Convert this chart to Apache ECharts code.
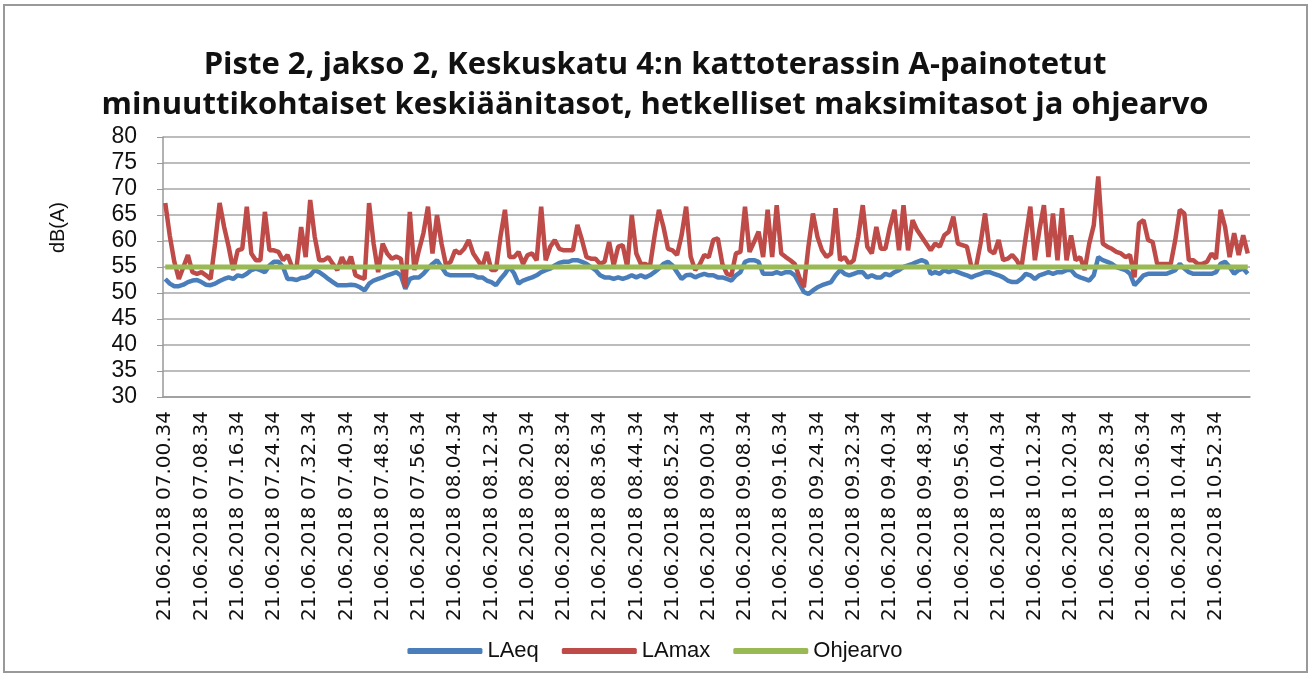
<!DOCTYPE html>
<html>
<head>
<meta charset="utf-8">
<script src="https://cdn.jsdelivr.net/npm/echarts@6/dist/echarts.min.js"></script>
<style>
  html, body { margin: 0; padding: 0; background: #fff; }
  #wrap { position: relative; width: 1310px; height: 675px; }
  #chart { width: 1310px; height: 675px; }
  #frame { position: absolute; left: 3px; top: 4px; right: 2px; bottom: 2px; border: 2px solid #999; pointer-events: none; }
</style>
</head>
<body>
<div id="wrap">
  <div id="chart"></div>
  <div id="frame"></div>
</div>
<script>
// one reading per minute, 07.00.34 ... 10.59.34
const startHour = 7
const minutes = 240
const dateText = '21.06.2018'

const laeq = [
  52.7, 51.8, 51.3, 51.3, 51.6, 52.1, 52.4, 52.5, 52.1, 51.6,
  51.5, 51.8, 52.3, 52.7, 53.0, 52.7, 53.4, 53.2, 53.7, 54.4,
  54.7, 54.4, 54.0, 55.3, 56.0, 56.0, 55.0, 52.7, 52.7, 52.5,
  52.9, 53.0, 53.4, 54.4, 54.0, 53.4, 52.7, 52.1, 51.5,
  51.5, 51.5, 51.6, 51.5, 51.1, 50.5, 51.8, 52.4, 52.7, 53.0,
  53.4, 53.7, 54.0, 53.4, 50.8, 52.7, 53.0, 53.0, 53.7, 54.7,
  55.6, 56.3, 55.0, 53.7, 53.4, 53.4, 53.4, 53.4, 53.4, 53.4,
  53.0, 53.0, 52.4, 52.1, 51.5, 52.7, 53.7, 55.0,
  53.8, 51.8, 52.4, 52.7, 53.0, 53.4, 54.0, 54.4, 54.7, 55.3,
  55.8, 56.0, 56.0, 56.3, 56.3, 56.0, 55.6, 55.0, 54.4, 53.4,
  53.0, 53.0, 52.7, 53.0, 52.7, 53.0, 53.4, 53.0, 53.4, 53.0,
  53.4, 54.0, 54.7, 55.6, 56.0, 55.3, 54.0, 52.7, 53.4,
  53.5, 53.0, 53.4, 53.7, 53.4, 53.4, 53.0, 53.0, 52.7, 52.4,
  53.4, 54.0, 56.0, 56.3, 56.3, 56.0, 53.7, 53.7, 53.7, 54.0,
  53.7, 54.0, 54.0, 53.4, 51.8, 50.2, 49.8, 50.5, 51.1, 51.5,
  51.8, 52.1, 53.4, 54.4, 53.7, 53.4, 53.7, 54.0, 54.0, 53.0,
  53.4, 53.0, 53.0, 53.7, 53.4, 54.0, 54.4, 55.0, 55.3, 55.6,
  56.0, 56.3, 56.0, 53.7, 54.0, 53.7, 54.4, 54.0, 54.4, 54.0,
  53.7, 53.4, 53.0, 53.4, 53.7, 54.0, 54.0, 53.7, 53.4, 53.0,
  52.4, 52.1, 52.1, 52.7, 53.7, 53.4, 52.7, 53.4, 53.7, 54.0,
  53.7, 54.0, 54.0, 54.4, 54.4, 53.4, 53.0, 52.7, 52.4, 53.4,
  56.9, 56.3, 56.0, 55.6, 55.0, 54.7, 54.4, 53.7, 51.5, 52.4,
  53.4, 53.7, 53.7, 53.7, 53.7, 53.7, 54.0, 54.4, 55.6, 54.7,
  54.0, 53.7, 53.7, 53.7, 53.7, 53.7, 54.0, 55.6, 56.0, 55.0,
  53.7, 54.4, 54.7, 53.7
]

const lamax = [
  67.3, 61.0, 56.0, 52.7, 55.0, 57.3, 54.0, 53.7, 54.0, 53.4,
  52.7, 59.5, 67.3, 62.7, 58.9, 54.4, 58.2, 58.5, 66.6, 57.6,
  56.3, 56.3, 65.6, 58.2, 58.2, 57.9, 56.3, 57.3, 55.0, 55.0,
  62.7, 56.9, 67.9, 60.8, 56.3, 56.3, 56.9,
  55.6, 54.4, 56.9, 55.0, 57.0, 53.4, 53.0, 52.7, 67.3, 59.5,
  54.0, 59.5, 57.6, 56.6, 57.0, 56.6, 51.0, 65.6, 54.4, 58.2,
  61.5, 66.6, 57.6, 65.0, 59.5, 55.3, 56.0, 58.2, 57.6, 58.5,
  60.2, 57.6, 56.3, 55.0, 57.9, 54.4, 54.4, 60.8, 66.0, 56.9,
  56.9, 57.9, 55.6, 57.3, 57.6, 56.3, 66.6, 56.3, 58.9, 60.2,
  58.5, 58.2, 58.2, 58.2, 63.1, 60.2, 56.9, 56.6, 56.6, 55.6,
  56.0, 59.8, 55.3, 58.9, 59.2, 55.0, 65.0, 57.6, 55.6, 55.6,
  55.0, 60.8, 66.0, 62.7, 58.5, 58.2, 57.3, 61.1, 66.6,
  57.0, 54.4, 55.5, 57.3, 56.9, 60.2, 60.5, 55.6, 53.7, 53.4,
  57.6, 57.9, 66.6, 57.9, 59.8, 61.8, 56.9, 66.0, 56.9, 66.9,
  57.6, 56.9, 56.3, 55.6, 53.0, 51.1, 58.9, 65.3, 60.8, 58.2,
  56.9, 57.6, 66.3, 56.3, 56.9, 55.6, 56.3, 60.8, 66.9, 58.9,
  57.6, 62.7, 58.5, 58.5, 62.7, 66.0, 58.2, 66.9, 58.2, 64.0,
  62.1, 60.8, 59.5, 58.2, 59.5, 58.9, 61.1, 61.8, 64.7, 59.5,
  59.2, 58.9, 55.0, 55.0, 59.5, 65.3, 58.2, 57.6, 60.2, 56.3,
  56.6, 57.3, 56.3, 54.7, 60.8, 66.6, 56.3, 62.1, 66.9, 56.9,
  65.3, 56.3, 66.3, 56.3, 61.1, 56.3, 56.9, 54.4, 59.5, 63.0,
  72.4, 59.5, 58.9, 58.5, 57.9, 57.6, 56.9, 57.3, 53.0, 63.4,
  64.0, 60.2, 59.8, 55.6, 55.6, 55.6, 55.6, 60.2, 66.0, 65.3,
  56.3, 56.3, 55.6, 55.6, 56.0, 57.6, 56.6, 66.0, 62.7, 56.9,
  61.5, 57.3, 61.1, 57.6
]

// guideline value (constant)
const ohjearvo = 55

const yTicks = { min: 30, max: 80, interval: 5 }

const pad = n => String(n).padStart(2, '0')
const categories = []
for (let m = 0; m < minutes; m++) {
  const h = startHour + Math.floor(m / 60)
  categories.push(dateText + ' ' + pad(h) + '.' + pad(m % 60) + '.34')
}

const colors = ['#4a7ebb', '#be4b48', '#98b954']
const fontMain = '"Liberation Sans", Arial, sans-serif'

const chart = echarts.init(document.getElementById('chart'))

chart.setOption({
  animation: false,
  title: {
    text: 'Piste 2, jakso 2, Keskuskatu 4:n kattoterassin A-painotetut\nminuuttikohtaiset keskiäänitasot, hetkelliset maksimitasot ja ohjearvo',
    left: 'center',
    top: 40,
    textStyle: {
      fontFamily: '"Open Sans", sans-serif',
      fontSize: 31,
      fontWeight: 'bold',
      color: '#111',
      lineHeight: 40
    }
  },
  legend: {
    bottom: 8,
    left: 'center',
    itemWidth: 75,
    itemHeight: 6,
    itemGap: 23,
    icon: 'roundRect',
    textStyle: { fontFamily: fontMain, fontSize: 22, color: '#111' },
    data: ['LAeq', 'LAmax', 'Ohjearvo']
  },
  graphic: [{
    type: 'text',
    left: 48,
    top: 202,
    rotation: Math.PI / 2,
    style: { text: 'dB(A)', font: '20px "Liberation Sans", Arial, sans-serif', fill: '#111' }
  }],
  grid: { left: 163, right: 60, top: 137, bottom: 278 },
  xAxis: {
    type: 'category',
    data: categories,
    boundaryGap: true,
    axisLine: { lineStyle: { color: '#999', width: 1.5 } },
    axisTick: { interval: 0, length: 6, lineStyle: { color: '#999' } },
    axisLabel: {
      interval: 7,
      rotate: 90,
      fontFamily: '"DejaVu Sans", sans-serif',
      fontSize: 20,
      color: '#111',
      margin: 14
    }
  },
  yAxis: {
    type: 'value',
    min: yTicks.min,
    max: yTicks.max,
    interval: yTicks.interval,
    axisLine: { show: true, lineStyle: { color: '#999', width: 1.5 } },
    axisTick: { show: true, length: 6, lineStyle: { color: '#999' } },
    splitLine: { lineStyle: { color: '#a6a6a6', width: 1.5 } },
    axisLabel: { fontFamily: fontMain, fontSize: 23, color: '#111', margin: 26 }
  },
  series: [
    {
      name: 'LAeq', type: 'line', data: laeq, showSymbol: false,
      itemStyle: { color: colors[0] }, lineStyle: { color: colors[0], width: 4.5 }
    },
    {
      name: 'LAmax', type: 'line', data: lamax, showSymbol: false,
      itemStyle: { color: colors[1] }, lineStyle: { color: colors[1], width: 4.5 }
    },
    {
      name: 'Ohjearvo', type: 'line', data: categories.map(() => ohjearvo), showSymbol: false,
      itemStyle: { color: colors[2] }, lineStyle: { color: colors[2], width: 5 }
    }
  ]
})
</script>
</body>
</html>
